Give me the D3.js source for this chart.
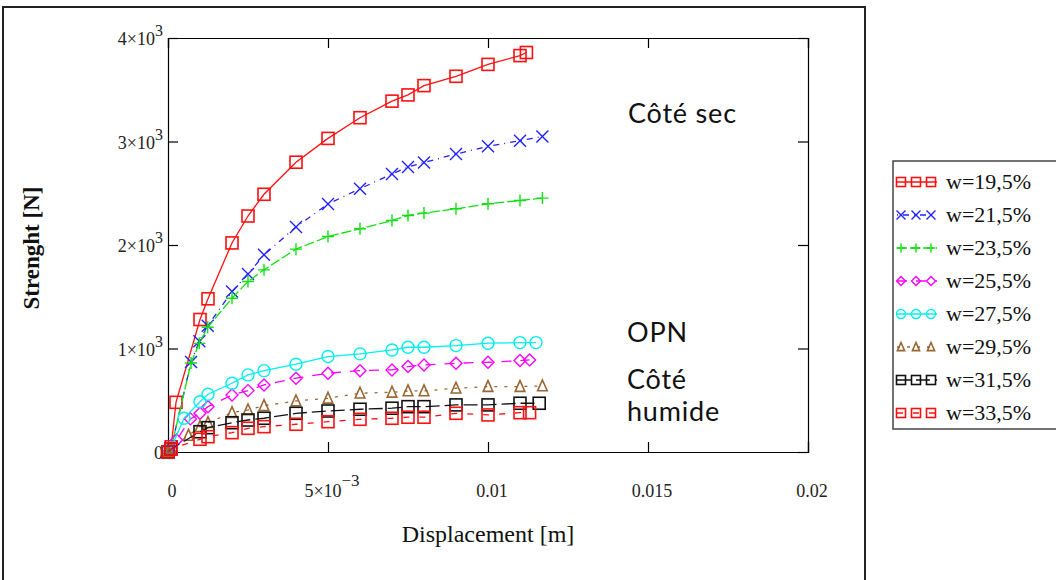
<!DOCTYPE html>
<html>
<head>
<meta charset="utf-8">
<title>Strenght vs displacement</title>
<script src="https://d3js.org/d3.v7.min.js"></script>
<style>
  html, body { margin: 0; padding: 0; background: #fff; }
  .axis path, .axis line { stroke: #000; stroke-width: 1.2px; }
</style>
</head>
<body>
<script>
// ---- data ----
let labels = ["w=19,5%", "w=21,5%", "w=23,5%", "w=25,5%", "w=27,5%", "w=29,5%", "w=31,5%", "w=33,5%"];

let x195 = [0, 0.0001, 0.00025, 0.001, 0.00125, 0.002, 0.0025, 0.003, 0.004, 0.005, 0.006, 0.007, 0.0075, 0.008, 0.009, 0.01, 0.011, 0.0112];
let y195 = [0, 50, 480, 1280, 1480, 2020, 2280, 2490, 2800, 3030, 3230, 3390, 3450, 3540, 3630, 3745, 3830, 3860];

let x215 = [0, 0.0001, 0.00072, 0.00098, 0.00124, 0.002, 0.0025, 0.003, 0.004, 0.005, 0.006, 0.007, 0.0075, 0.008, 0.009, 0.01, 0.011, 0.0117];
let y215 = [0, 40, 870, 1070, 1220, 1550, 1720, 1905, 2175, 2396, 2544, 2686, 2753, 2798, 2879, 2953, 3008, 3049];

let x235 = [0, 0.0001, 0.00072, 0.00098, 0.00124, 0.002, 0.0025, 0.003, 0.004, 0.005, 0.006, 0.007, 0.0075, 0.008, 0.009, 0.01, 0.011, 0.0117];
let y235 = [0, 40, 860, 1050, 1206, 1486, 1647, 1760, 1960, 2082, 2157, 2237, 2285, 2308, 2350, 2398, 2430, 2453];

let x255 = [0, 0.0001, 0.00027, 0.0007, 0.001, 0.00125, 0.002, 0.0025, 0.003, 0.004, 0.005, 0.006, 0.007, 0.0075, 0.008, 0.009, 0.01, 0.011, 0.0113];
let y255 = [0, 30, 116, 320, 374, 438, 551, 593, 648, 713, 761, 786, 793, 825, 841, 858, 867, 883, 890];

let x275 = [0, 0.0001, 0.0005, 0.001, 0.00125, 0.002, 0.0025, 0.003, 0.004, 0.005, 0.006, 0.007, 0.0075, 0.008, 0.009, 0.01, 0.011, 0.0115];
let y275 = [0, 40, 326, 486, 558, 664, 745, 786, 848, 922, 948, 986, 1012, 1012, 1028, 1051, 1057, 1057];

let x295 = [0, 0.0001, 0.00064, 0.001, 0.00125, 0.002, 0.0025, 0.003, 0.004, 0.005, 0.006, 0.007, 0.0075, 0.008, 0.009, 0.01, 0.011, 0.0117];
let y295 = [0, 30, 160, 245, 283, 380, 406, 448, 493, 519, 568, 577, 590, 590, 616, 632, 632, 638];

let x315 = [0, 0.0001, 0.001, 0.00125, 0.002, 0.0025, 0.003, 0.004, 0.005, 0.006, 0.007, 0.0075, 0.008, 0.009, 0.01, 0.011, 0.0116];
let y315 = [0, 30, 196, 235, 283, 309, 326, 374, 396, 413, 423, 438, 438, 455, 455, 471, 471];

let x335 = [0, 0.0001, 0.001, 0.00125, 0.002, 0.0025, 0.003, 0.004, 0.005, 0.006, 0.007, 0.0075, 0.008, 0.009, 0.01, 0.011, 0.0113];
let y335 = [0, 30, 123, 148, 187, 229, 245, 268, 293, 316, 326, 336, 336, 374, 358, 380, 380];

let xTicks = [0, 0.005, 0.01, 0.015, 0.02];
let xTickLabels = [["0", ""], ["5\u00d710", "\u22123"], ["0.01", ""], ["0.015", ""], ["0.02", ""]];
let yTicks = [0, 1000, 2000, 3000, 4000];
let yTickLabels = [["0", ""], ["1\u00d710", "3"], ["2\u00d710", "3"], ["3\u00d710", "3"], ["4\u00d710", "3"]];

let colors = ["#ff1010", "#2020ff", "#10e010", "#ff00ff", "#00f0f0", "#996633", "#111111", "#ff1010"];
let dashes = ["none", "1,5,6,5", "10,3", "10,9", "none", "3,7", "14,5", "6,10"];
let symbols = ["square", "x", "plus", "diamond", "circle", "triangle", "square", "square"];

let series = [
  [x195, y195], [x215, y215], [x235, y235], [x255, y255],
  [x275, y275], [x295, y295], [x315, y315], [x335, y335]
];

let SERIF = "'Liberation Serif', 'Times New Roman', serif";
let SANS = "Lato, 'Open Sans', sans-serif";

// ---- layout ----
let W = 1056, H = 580;
let svg = d3.select("body").append("svg").attr("width", W).attr("height", H);

// outer frame around the chart
svg.append("rect")
  .attr("x", 3).attr("y", 7).attr("width", 862).attr("height", 580)
  .attr("fill", "none").attr("stroke", "#222").attr("stroke-width", 2);

let x = d3.scaleLinear().domain([0, 0.02]).range([168, 808]);
let y = d3.scaleLinear().domain([0, 4000]).range([452, 38]);

// box + inner ticks
svg.append("g").attr("class", "axis").attr("transform", "translate(0,452)")
  .call(d3.axisBottom(x).tickValues(xTicks).tickSize(-10).tickFormat(""));
svg.append("g").attr("class", "axis").attr("transform", "translate(0,38)")
  .call(d3.axisTop(x).tickValues(xTicks).tickSize(-10).tickFormat(""));
svg.append("g").attr("class", "axis").attr("transform", "translate(168,0)")
  .call(d3.axisLeft(y).tickValues(yTicks).tickSize(-10).tickFormat(""));
svg.append("g").attr("class", "axis").attr("transform", "translate(808,0)")
  .call(d3.axisRight(y).tickValues(yTicks).tickSize(-10).tickFormat(""));
svg.selectAll(".axis .domain").attr("stroke-width", 1.5);

// tick labels (with superscripts)
xTicks.forEach(function(v, i) {
  let t = svg.append("text").attr("font-family", SERIF)
    .attr("x", x(v) + 4).attr("y", 497)
    .attr("text-anchor", "middle").attr("font-size", 18).attr("fill", "#222");
  t.append("tspan").text(xTickLabels[i][0]);
  if (xTickLabels[i][1]) t.append("tspan").attr("dy", -11).attr("font-size", 17).text(xTickLabels[i][1]);
});
yTicks.forEach(function(v, i) {
  let t = svg.append("text").attr("font-family", SERIF)
    .attr("x", 163).attr("y", y(v) + 7)
    .attr("text-anchor", "end").attr("font-size", 18).attr("fill", "#222");
  t.append("tspan").text(yTickLabels[i][0]);
  if (yTickLabels[i][1]) t.append("tspan").attr("dy", -9).attr("font-size", 16).text(yTickLabels[i][1]);
});

// axis titles
svg.append("text").attr("font-family", SERIF)
  .attr("x", 488).attr("y", 542).attr("text-anchor", "middle")
  .attr("font-size", 24).attr("fill", "#111").text("Displacement [m]");
svg.append("text").attr("font-family", SERIF)
  .attr("transform", "translate(39,248) rotate(-90)").attr("text-anchor", "middle")
  .attr("font-size", 23).attr("font-weight", "bold").attr("fill", "#111").text("Strenght [N]");

// annotations
function note(tx, ty, str) {
  svg.append("text").attr("font-family", SANS).attr("font-size", 27)
    .attr("letter-spacing", 0.8).attr("fill", "#111")
    .attr("x", tx).attr("y", ty).text(str);
}
note(628, 123, "Côté sec");
note(627, 342, "OPN");
note(627, 389, "Côté");
note(627, 421, "humide");

// marker drawing
function marker(g, type, cx, cy, col, s) {
  let h = s / 2;
  if (type === "square") {
    g.append("rect").attr("x", cx - h).attr("y", cy - h).attr("width", s).attr("height", s)
      .attr("fill", "none").attr("stroke", col).attr("stroke-width", 1.6);
  } else if (type === "circle") {
    g.append("circle").attr("cx", cx).attr("cy", cy).attr("r", h)
      .attr("fill", "none").attr("stroke", col).attr("stroke-width", 1.4);
  } else if (type === "diamond") {
    g.append("path").attr("d", "M" + cx + "," + (cy - h) + "L" + (cx + h) + "," + cy + "L" + cx + "," + (cy + h) + "L" + (cx - h) + "," + cy + "Z")
      .attr("fill", "none").attr("stroke", col).attr("stroke-width", 1.4);
  } else if (type === "triangle") {
    g.append("path").attr("d", "M" + cx + "," + (cy - h) + "L" + (cx + h * 0.8) + "," + (cy + h * 0.8) + "L" + (cx - h * 0.8) + "," + (cy + h * 0.8) + "Z")
      .attr("fill", "none").attr("stroke", col).attr("stroke-width", 1.6);
  } else if (type === "x") {
    g.append("path").attr("d", "M" + (cx - h) + "," + (cy - h) + "L" + (cx + h) + "," + (cy + h) + "M" + (cx + h) + "," + (cy - h) + "L" + (cx - h) + "," + (cy + h))
      .attr("stroke", col).attr("stroke-width", 1.4);
  } else if (type === "plus") {
    g.append("path").attr("d", "M" + (cx - h) + "," + cy + "L" + (cx + h) + "," + cy + "M" + cx + "," + (cy - h) + "L" + cx + "," + (cy + h))
      .attr("stroke", col).attr("stroke-width", 1.4);
  }
}

let line = d3.line().x(function(d) { return x(d[0]); }).y(function(d) { return y(d[1]); });

let plot = svg.append("g");
series.forEach(function(s, i) {
  let pts = s[0].map(function(v, j) { return [v, s[1][j]]; });
  plot.append("path").attr("d", line(pts))
    .attr("fill", "none").attr("stroke", colors[i]).attr("stroke-width", 1.3)
    .attr("stroke-dasharray", dashes[i]);
  let mg = plot.append("g");
  pts.forEach(function(p) {
    marker(mg, symbols[i], x(p[0]), y(p[1]), colors[i], 12);
  });
});

// legend
let lg = svg.append("g");
lg.append("rect").attr("x", 893).attr("y", 161).attr("width", 170).attr("height", 268)
  .attr("fill", "#fff").attr("stroke", "#444").attr("stroke-width", 1.5);
labels.forEach(function(lab, i) {
  let ly = 182 + i * 33;
  lg.append("line").attr("x1", 897).attr("x2", 937).attr("y1", ly).attr("y2", ly)
    .attr("stroke", colors[i]).attr("stroke-width", 1.3).attr("stroke-dasharray", dashes[i] === "none" ? null : dashes[i]);
  [901, 916, 931].forEach(function(mx) { marker(lg, symbols[i], mx, ly, colors[i], 9); });
  lg.append("text").attr("font-family", SERIF).attr("x", 946).attr("y", ly + 7)
    .attr("font-size", 22).attr("fill", "#111").text(lab);
});
</script>
</body>
</html>
